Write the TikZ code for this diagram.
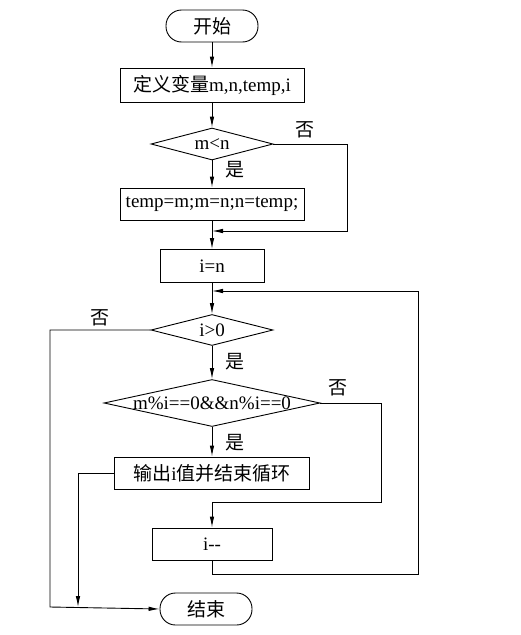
\documentclass[tikz,border=0pt]{standalone}
\usepackage{fontspec}
\setmainfont{Liberation Serif}
\newfontfamily\cjk{Noto Sans CJK SC}
\usepackage{tikz}
\usetikzlibrary{arrows.meta,shapes.geometric}
\newcommand{\ztext}[1]{\makebox[0pt]{#1}}

\begin{document}
\begin{tikzpicture}[x=1pt,y=-1pt,line width=0.9pt,
  every node/.style={font=\fontsize{19}{21}\selectfont,inner sep=0pt},
  term/.style={draw,rectangle,rounded corners=15.5pt,minimum width=92pt,minimum height=32pt},
  proc/.style={draw,rectangle,minimum height=32pt},
  cond/.style={draw,diamond,aspect=1},
  arr/.style={-{Latex[length=11pt,width=4.5pt]}}]
\useasboundingbox (0,0) rectangle (520,635);
\node[term] (start) at (212,26) {\cjk 开始};
\node[proc,minimum width=184pt,minimum height=34pt] (def) at (212,85) {{\cjk 定义变量}m,n,temp,i};
\node[cond,minimum width=122pt,minimum height=32pt] (cmp) at (212,144) {\ztext{m<n}};
\node[proc,minimum width=184pt] (swap) at (212,204) {temp=m;m=n;n=temp;};
\node[proc,minimum width=104pt,minimum height=33pt] (init) at (212,266) {i=n};
\node[cond,minimum width=122pt,minimum height=31pt] (test) at (212,330) {\ztext{i>0}};
\node[cond,minimum width=216pt,minimum height=47pt] (check) at (212,403) {\ztext{m\%i==0\&\&n\%i==0}};
\node[proc,minimum width=195pt] (out) at (212,473) {{\cjk 输出}i{\cjk 值并结束循环}};
\node[proc,minimum width=120pt] (dec) at (212,544) {i-{}-};
\node[term] (end) at (206,609) {\cjk 结束};
% labels
\node (no1) at (305,130) {\cjk 否};
\node (yes1) at (235,170) {\cjk 是};
\node (no2) at (100,318) {\cjk 否};
\node (yes2) at (235,362) {\cjk 是};
\node (no3) at (338,388) {\cjk 否};
\node (yes3) at (235,443) {\cjk 是};
% join points
\coordinate (j1) at (212,231);
\coordinate (j2) at (212,291);
\coordinate (j3) at (78,607);
% main line
\draw[arr] (start) -- (def);
\draw[arr] (def) -- (cmp);
\draw[arr] (cmp) -- (swap);
\draw[arr] (swap) -- (init);
\draw[arr] (init) -- (test);
\draw[arr] (test) -- (check);
\draw[arr] (check) -- (out);
% branches
\draw[arr] (cmp.east) -- (347,144) -- (347,231) -- (j1);
\draw[arr] (dec.south) -- (212,574) -- (418,574) -- (418,291) -- (j2);
\draw[arr] (test.west) -- (50,330) -- (50,607) -- (end.west);
\draw[arr] (check.east) -- (381,403) -- (381,502) -- (212,502) -- (dec.north);
\draw[arr] (out.west) -- (78,473) -- (j3);
\end{tikzpicture}
\end{document}
